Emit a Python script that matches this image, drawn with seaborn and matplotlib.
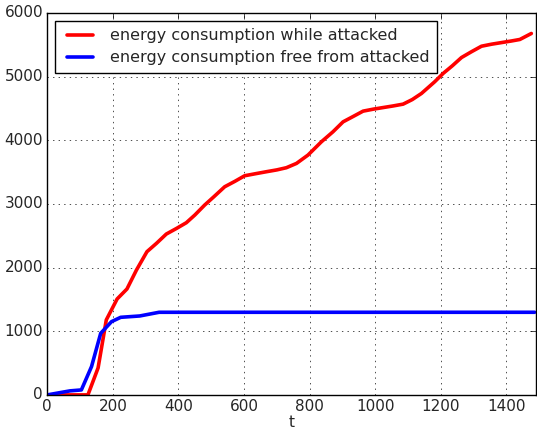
import matplotlib
matplotlib.use("Agg")
import matplotlib.pyplot as plt
import seaborn as sns
import pandas as pd

# energy consumption while attacked
t_attacked = [0, 30, 60, 90, 124, 155, 180, 213, 243, 272, 304, 333, 363, 394, 424,
              450, 480, 508, 541, 572, 602, 635, 668, 700, 729, 760, 795, 836, 871,
              902, 933, 963, 995, 1025, 1055, 1085, 1113, 1141, 1181, 1207, 1235,
              1263, 1293, 1324, 1355, 1385, 1415, 1441, 1476]
e_attacked = [0, 0, 0, 0, 0, 424, 1178, 1507, 1664, 1962, 2250, 2381, 2527, 2615, 2705,
              2826, 2983, 3113, 3270, 3355, 3443, 3475, 3506, 3535, 3569, 3637, 3768,
              3977, 4133, 4290, 4375, 4458, 4490, 4515, 4540, 4568, 4640, 4736, 4918,
              5050, 5170, 5300, 5390, 5478, 5510, 5535, 5560, 5584, 5678]

# energy consumption free from attacked
t_free = [0, 69, 104, 135, 163, 196, 224, 282, 341, 400, 600, 800, 1000, 1200, 1400, 1486]
e_free = [0, 63, 78, 445, 968, 1151, 1219, 1240, 1298, 1298, 1298, 1298, 1298, 1298,
          1298, 1298]

plt.style.use("classic")
sns.set_style("white")
plt.rcParams["font.family"] = ["DejaVu Sans"]

df_a = pd.DataFrame({"t": t_attacked, "energy": e_attacked})
df_f = pd.DataFrame({"t": t_free, "energy": e_free})

fig, ax = plt.subplots(figsize=(5.37, 4.33), dpi=100)
fig.subplots_adjust(left=0.088, right=0.998, bottom=0.088, top=0.97)

sns.lineplot(data=df_a, x="t", y="energy", ax=ax, color="red", linewidth=2.6,
             label="energy consumption while attacked", estimator=None, sort=False)
sns.lineplot(data=df_f, x="t", y="energy", ax=ax, color="blue", linewidth=2.6,
             label="energy consumption free from attacked", estimator=None, sort=False)

ax.set_xlim(0, 1490)
ax.set_ylim(0, 6000)
ax.set_xticks(range(0, 1401, 200))
ax.set_yticks(range(0, 6001, 1000))
ax.set_xlabel("t", fontsize=11, labelpad=1)
ax.set_ylabel("")
ax.tick_params(labelsize=11, direction="in", top=True, right=True, length=4,
               color="black", pad=3)
for s in ax.spines.values():
    s.set_color("black")
    s.set_linewidth(1)
ax.grid(True, color="black", linestyle=":", linewidth=0.7, alpha=0.7)

leg = ax.legend(loc="upper left", fontsize=11.5, frameon=True, fancybox=False,
                borderaxespad=0.5, handlelength=2.2, handletextpad=0.8,
                labelspacing=0.45, borderpad=0.45)
leg.get_frame().set_edgecolor("black")
leg.get_frame().set_linewidth(1)

fig.savefig("out.png", dpi=100)
